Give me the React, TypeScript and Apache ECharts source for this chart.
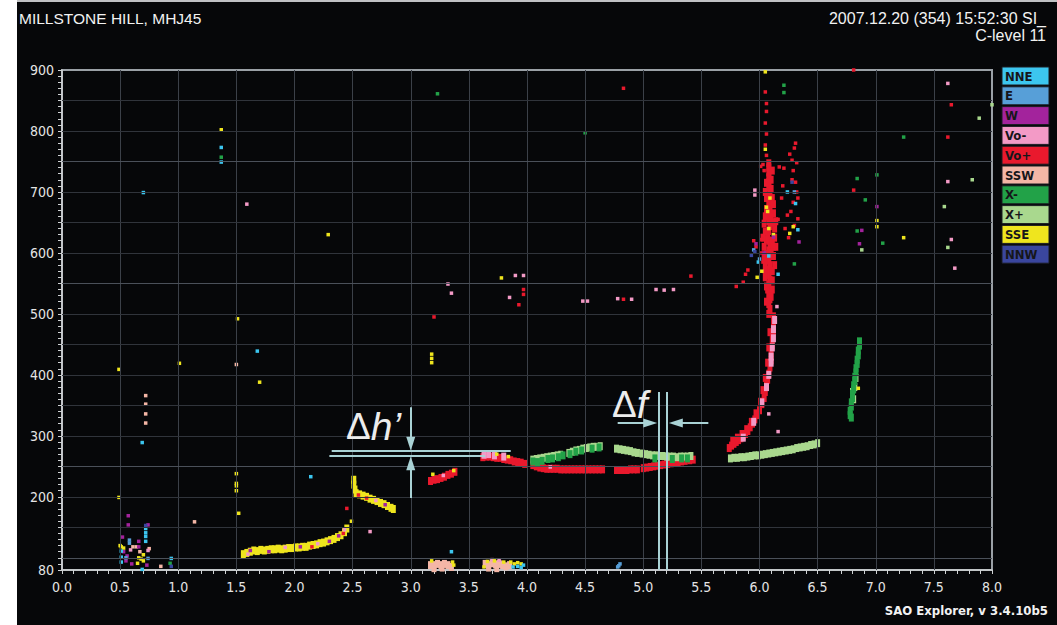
import React, { useEffect, useRef } from "react";
import * as echarts from "echarts";

// Ionogram: frequency (MHz) vs virtual height (km), echo points coloured by direction / polarization
const CATEGORIES = ["NNE", "E", "W", "Vo-", "Vo+", "SSW", "X-", "X+", "SSE", "NNW"];

const COLORS: Record<string, string> = {
  NNE: "#3cc6ef",
  E: "#579fd8",
  W: "#a3239c",
  "Vo-": "#f39ac6",
  "Vo+": "#e9192d",
  SSW: "#f4b6a6",
  "X-": "#22a248",
  "X+": "#a9d88e",
  SSE: "#efe51e",
  NNW: "#3a469e",
};

const X_TICK_LABELS_STEP = 0.5;
const X_GRID = [0.5, 1.0, 1.5, 2.0, 2.5, 3.0, 3.5, 4.0, 4.5, 5.0, 5.5, 6.0, 6.5, 7.0, 7.5];
const Y_GRID = [100, 150, 200, 250, 300, 350, 400, 450, 500, 550, 600, 650, 700, 750, 800, 850];
const Y_GRID_STRONG = [100, 250, 550, 750];
const Y_LABELS = [80, 200, 300, 400, 500, 600, 700, 800, 900];

// ---- ordinary-mode (Vo+) traces ----
const vopTrace = [
  [3.17, 226], [3.2, 228], [3.23, 229], [3.26, 231], [3.29, 233], [3.32, 236], [3.35, 238], [3.38, 241],
  [3.62, 265], [3.65, 266], [3.68, 266], [3.71, 265], [3.74, 264], [3.77, 264], [3.8, 262], [3.83, 261],
  [3.86, 260], [3.89, 258], [3.92, 257], [3.95, 256], [3.98, 254],
  [4.05, 252], [4.08, 250], [4.11, 248], [4.14, 247], [4.17, 246], [4.2, 246], [4.23, 246], [4.26, 246],
  [4.29, 245], [4.32, 245], [4.35, 245], [4.38, 245], [4.41, 245], [4.44, 245], [4.47, 245], [4.5, 245],
  [4.53, 245], [4.56, 245], [4.59, 245], [4.62, 245], [4.65, 245],
  [4.77, 244], [4.8, 244], [4.83, 244], [4.86, 244], [4.89, 245], [4.92, 245], [4.95, 245],
  [5.0, 247], [5.03, 248], [5.06, 249], [5.09, 250], [5.12, 251], [5.15, 252], [5.18, 253], [5.21, 254],
  [5.24, 255], [5.27, 256], [5.3, 257], [5.33, 258], [5.36, 259], [5.4, 260], [5.43, 261],
  // F2 rising branch
  [5.74, 280], [5.76, 284], [5.78, 287], [5.8, 290], [5.82, 293], [5.84, 296], [5.86, 299], [5.88, 303],
  [5.9, 308], [5.92, 314], [5.94, 320], [5.96, 327], [5.98, 334], [6.0, 342], [6.02, 352], [6.04, 362],
  [6.05, 372], [6.06, 382], [6.07, 392], [6.08, 402], [6.09, 412], [6.1, 424], [6.1, 436], [6.11, 448],
  [6.11, 460], [6.12, 472], [6.12, 484], [6.12, 496],
  [5.77, 292], [5.81, 297], [5.85, 303], [5.89, 311], [5.93, 323], [5.97, 337], [6.01, 356], [6.03, 375],
  [6.05, 395], [6.07, 420], [6.08, 445], [6.09, 470],
  // F2 spread column
  [6.08, 500], [6.09, 508], [6.08, 516], [6.09, 524], [6.08, 532], [6.07, 540], [6.08, 548], [6.09, 556],
  [6.08, 564], [6.07, 572], [6.09, 580], [6.08, 588], [6.07, 596], [6.08, 604], [6.09, 612], [6.08, 620],
  [6.07, 628], [6.08, 636], [6.09, 644], [6.08, 652], [6.07, 660], [6.08, 668], [6.09, 676], [6.08, 684],
  [6.08, 692], [6.09, 700], [6.08, 708], [6.08, 716], [6.08, 724], [6.08, 732], [6.08, 740], [6.08, 747],
  [6.05, 560], [6.05, 585], [6.04, 610], [6.05, 635], [6.05, 660], [6.06, 690], [6.11, 570], [6.12, 595],
  [6.11, 620], [6.13, 640], [6.12, 665], [6.11, 690], [6.14, 610], [6.13, 580], [6.1, 720], [6.11, 735],
  [6.06, 545], [6.05, 572], [6.06, 598], [6.06, 622], [6.04, 648], [6.06, 672], [6.05, 700], [6.06, 715],
  [6.11, 555], [6.12, 610], [6.11, 650], [6.12, 680], [6.1, 705], [6.11, 540], [6.1, 528], [6.06, 520],
  [6.13, 625], [6.14, 652], [6.03, 625], [6.04, 592], [6.1, 600], [6.1, 660],
];

const vopDots = [
  [6.02, 600], [6.03, 585], [6.02, 622], [6.06, 760], [6.05, 777], [6.06, 795], [6.05, 813], [6.06, 832],
  [6.06, 845], [6.05, 864], [6.03, 745], [6.01, 742], [6.04, 735],
  [6.31, 780], [6.26, 762], [6.28, 752], [6.32, 748], [6.17, 741], [6.21, 739], [6.28, 720], [6.31, 716],
  [6.32, 700], [6.29, 683], [6.27, 668], [6.24, 662], [6.33, 656], [6.3, 645], [6.25, 625], [6.22, 640],
  [6.19, 690], [6.2, 710], [6.16, 655], [6.3, 772], [6.29, 735], [6.33, 690],
  [5.95, 620], [5.97, 610], [5.9, 572], [5.88, 565], [5.86, 552], [5.8, 545],
  [2.55, 203], [2.62, 198], [2.45, 181], [2.15, 118], [2.42, 140],
  [4.83, 870], [3.97, 540], [3.97, 532], [3.93, 515], [3.2, 495], [4.83, 524], [5.41, 562],
  [7.65, 843], [7.62, 790], [6.81, 900], [6.81, 703],
];

// ---- extraordinary-mode traces ----
const xpTrace = [
  [4.05, 261], [4.08, 262], [4.11, 263], [4.14, 264], [4.17, 265], [4.2, 266], [4.23, 267], [4.26, 268], [4.29, 269],
  [4.36, 272], [4.39, 274], [4.42, 276], [4.45, 277], [4.48, 279], [4.51, 280], [4.54, 281], [4.57, 282],
  [4.6, 282], [4.63, 283],
  [4.77, 279], [4.8, 278], [4.83, 277], [4.86, 276], [4.89, 275], [4.92, 273], [4.95, 272],
  [4.99, 271], [5.02, 270], [5.05, 269], [5.08, 268], [5.11, 268], [5.14, 267], [5.17, 267], [5.2, 266],
  [5.23, 266], [5.26, 266], [5.29, 265], [5.32, 266], [5.35, 266], [5.38, 266], [5.41, 267],
  [5.75, 263], [5.78, 264], [5.81, 264], [5.84, 265], [5.87, 265], [5.9, 266], [5.93, 267], [5.96, 268],
  [5.99, 268], [6.02, 269], [6.05, 270], [6.08, 271], [6.11, 272], [6.14, 273], [6.17, 274], [6.2, 275],
  [6.23, 276], [6.26, 277], [6.29, 278], [6.32, 280], [6.35, 281], [6.38, 282], [6.41, 283], [6.44, 285],
  [6.47, 286], [6.5, 288],
  [6.83, 395], [6.82, 380], [6.8, 372], [6.81, 360], [6.86, 452],
];

const xpDots = [[7.89, 821], [7.83, 720], [7.59, 676], [7.62, 609], [6.88, 605], [8.0, 843]];

const xmTrace = [
  [4.05, 258], [4.09, 257], [4.13, 259], [4.18, 262], [4.22, 263], [4.27, 265], [4.31, 268], [4.37, 270],
  [4.42, 274], [4.47, 276], [4.56, 279], [4.62, 281], [5.1, 263], [5.25, 262], [5.33, 263], [5.38, 263],
  [6.86, 455], [6.86, 448], [6.85, 440], [6.85, 432], [6.84, 425], [6.84, 418], [6.83, 411], [6.83, 404],
  [6.82, 397], [6.82, 390], [6.81, 383], [6.81, 376], [6.8, 369], [6.8, 362], [6.79, 355], [6.79, 348],
  [6.78, 341], [6.78, 334], [6.79, 330],
];

const xmDots = [
  [1.37, 757], [3.23, 861], [4.5, 797], [6.21, 875], [6.21, 863], [6.84, 722], [6.91, 687], [7.01, 728],
  [6.84, 636], [7.06, 616], [7.24, 790], [0.93, 91], [6.3, 582],
];

// ---- Vo- echoes ----
const vomTrace = [
  [5.86, 297], [5.95, 323], [6.02, 355], [6.06, 380], [6.08, 400], [6.1, 420], [6.1, 430], [6.11, 445],
  [6.12, 460], [6.12, 475], [6.13, 490],
  [3.63, 269], [3.67, 270], [3.72, 268], [3.8, 266],
];

const vomDots = [
  [1.59, 680], [3.32, 549], [3.35, 534], [3.9, 563], [3.97, 563], [3.85, 527], [4.48, 521], [4.52, 521],
  [4.78, 525], [4.9, 524], [5.11, 540], [5.18, 539], [5.26, 540], [7.62, 878], [7.62, 717], [7.65, 622],
  [7.68, 575], [2.65, 143], [6.15, 512], [5.96, 703], [5.96, 695], [6.16, 307], [6.08, 336],
  [1.6, 106], [1.92, 117], [2.2, 123], [2.43, 146], [2.7, 194], [3.28, 235], [4.2, 249],
  [0.59, 113], [0.74, 112], [3.7, 97], [3.76, 96],
];

// ---- sporadic-E / lower-layer echoes (SSE) ----
const sseTrace = [
  [1.56, 106], [1.59, 108], [1.62, 110], [1.65, 112], [1.68, 111], [1.71, 113], [1.74, 112], [1.77, 113],
  [1.8, 114], [1.83, 114], [1.86, 115], [1.89, 114], [1.92, 115], [1.95, 116], [1.98, 116], [2.01, 117],
  [2.04, 117], [2.07, 118], [2.1, 118], [2.13, 120], [2.16, 121], [2.19, 122], [2.22, 124], [2.25, 125],
  [2.28, 127], [2.31, 129], [2.34, 131], [2.37, 134], [2.4, 137], [2.43, 142], [2.45, 148],
  [2.51, 228], [2.51, 220], [2.52, 212], [2.53, 206], [2.56, 204], [2.59, 202], [2.62, 200], [2.65, 197],
  [2.68, 195], [2.71, 193], [2.74, 190], [2.77, 188], [2.8, 185], [2.83, 182], [2.85, 180],
];

const sseDots = [
  [0.49, 409], [0.49, 199], [1.01, 419], [1.7, 388], [1.5, 238], [1.5, 222], [1.5, 218], [1.5, 210],
  [1.52, 173], [1.37, 802], [2.29, 630], [1.51, 492], [3.78, 559], [3.18, 420], [3.18, 427], [3.18, 434],
  [7.01, 643], [7.01, 653], [7.24, 625], [6.05, 897], [6.05, 770],
  [6.07, 668], [6.08, 640], [6.12, 630], [6.02, 570], [5.98, 560], [6.09, 690], [6.06, 675], [6.26, 632],
  [6.29, 643], [6.85, 378], [3.19, 237], [3.37, 243], [3.74, 270], [3.84, 266],
  [0.5, 120], [0.51, 118], [0.53, 116], [0.7, 105], [0.68, 98], [0.7, 95], [0.66, 100], [0.65, 91],
  [3.18, 95], [3.36, 93], [3.37, 88], [3.63, 85], [3.66, 94], [3.72, 95], [3.8, 93], [3.86, 93],
  [3.89, 90], [3.92, 92], [3.95, 90], [2.49, 160],
];

// ---- remaining directional echoes ----
const sswTrace = [
  [3.17, 88], [3.2, 88], [3.23, 90], [3.26, 88], [3.29, 90], [3.32, 88], [3.2, 83], [3.27, 84], [3.35, 85],
  [3.64, 90], [3.67, 88], [3.7, 91], [3.73, 89], [3.76, 90], [3.79, 88], [3.82, 86], [3.85, 88], [3.67, 84], [3.74, 83],
];

const sswDots = [
  [0.72, 366], [0.72, 352], [0.72, 336], [0.72, 321], [1.5, 417], [1.14, 159], [0.85, 86], [0.61, 118],
  [0.67, 110], [0.64, 118], [0.75, 115],
];

const wDots = [
  [7.01, 676], [6.88, 637], [6.86, 615], [5.97, 615], [6.04, 600], [6.12, 626], [6.34, 618],
  [1.62, 112], [1.78, 110], [2.05, 118], [2.3, 127], [2.38, 136], [2.78, 187],
  [0.57, 169], [0.57, 154], [0.52, 134], [0.74, 154], [0.53, 110], [0.56, 103], [0.55, 95], [0.66, 127],
  [0.66, 118], [0.6, 90], [0.73, 88],
];

const eDots = [[0.58, 129], [0.58, 124], [0.55, 100], [4.78, 85], [4.8, 90], [4.79, 87], [5.95, 605], [6.0, 590], [6.3, 700], [0.74, 99]];

const nneDots = [
  [0.69, 289], [0.7, 699], [2.14, 233], [1.68, 439], [1.37, 773], [1.37, 749], [3.35, 110],
  [0.72, 148], [0.72, 141], [0.72, 135], [0.72, 127], [0.51, 111], [0.51, 101], [0.51, 93], [0.69, 81],
  [0.94, 99], [3.88, 85], [3.92, 86], [3.95, 84], [3.97, 88], [5.99, 585], [6.08, 595], [6.16, 565],
  [6.31, 681], [6.33, 638], [6.24, 700],
];

const nnwDots = [[0.72, 153], [0.94, 86], [5.96, 602], [5.93, 596], [6.28, 716]];

// frequency markers drawn under the bottom axis
const FREQ_MARKS = [[2.87, 3.17], [3.42, 3.63], [4.67, 4.78], [5.47, 5.78], [6.56, 6.81]];

const AXIS_FONT = "'DejaVu Sans Condensed','Liberation Sans',Arial,sans-serif";
const TITLE_FONT = "'Liberation Sans',Arial,sans-serif";
const ANNOT = "#a9d2d5";

function App() {
  const ref = useRef<HTMLDivElement>(null);

  useEffect(() => {
    if (!ref.current) return;
    const chart = echarts.init(ref.current, undefined, { renderer: "svg" });

    const trace = (name: string, data: number[][]) => ({
      type: "scatter",
      name,
      data,
      symbol: "rect",
      symbolSize: [5, 8],
      itemStyle: { color: COLORS[name], opacity: 1 },
      z: 3,
      silent: true,
    });
    const dots = (name: string, data: number[][]) => ({
      type: "scatter",
      name,
      data,
      symbol: "rect",
      symbolSize: 3.5,
      itemStyle: { color: COLORS[name], opacity: 1 },
      z: 4,
      silent: true,
    });

    const gridLines = [
      ...X_GRID.map((v) => ({ xAxis: v, lineStyle: { color: "#3b4048", width: 1, type: "solid" } })),
      ...Y_GRID.map((v) => ({
        yAxis: v,
        lineStyle: { color: Y_GRID_STRONG.includes(v) ? "#4a5059" : "#30343b", width: 1, type: "solid" },
      })),
    ];

    const arrowEnd = { symbol: "triangle", symbolSize: [9, 14] };
    const annotationLines = [
      [{ coord: [2.32, 275] }, { coord: [3.86, 275] }],
      [{ coord: [2.3, 267] }, { coord: [3.64, 267] }],
      [{ coord: [3.0, 347] }, { coord: [3.0, 287], ...arrowEnd }],
      [{ coord: [3.0, 198] }, { coord: [3.0, 255], ...arrowEnd }],
      [{ coord: [4.78, 321] }, { coord: [5.06, 321], ...arrowEnd }],
      [{ coord: [5.56, 321] }, { coord: [5.28, 321], ...arrowEnd }],
      [{ coord: [5.135, 372] }, { coord: [5.135, 80] }],
      [{ coord: [5.205, 372] }, { coord: [5.205, 80] }],
    ];

    const legendItems = CATEGORIES.flatMap((name, i) => [
      {
        type: "rect",
        shape: { x: 1002, y: 67 + i * 19.8, width: 47, height: 18 },
        style: { fill: COLORS[name], stroke: "#1a1c22", lineWidth: 1 },
        z: 10,
      },
      {
        type: "text",
        x: 1005,
        y: 76 + i * 19.8,
        style: { text: name, fill: "#16161a", font: `bold 13px ${AXIS_FONT}`, textVerticalAlign: "middle" },
        z: 11,
      },
    ]);

    chart.setOption({
      animation: false,
      backgroundColor: "#060709",
      grid: { left: 62, right: 65, top: 70, bottom: 55, show: true, borderColor: "#9aa0a6", borderWidth: 2, backgroundColor: "transparent" },
      xAxis: {
        type: "value",
        min: 0,
        max: 8,
        interval: 0.1,
        axisLine: { show: true, onZero: false, lineStyle: { color: "#cfd2d4", width: 1.5 } },
        axisTick: { show: true, length: 4, lineStyle: { color: "#cfd2d4" } },
        splitLine: { show: false },
        axisLabel: {
          color: "#e4e4e4",
          fontSize: 14,
          fontFamily: AXIS_FONT,
          margin: 10,
          formatter: (v: number) => (Math.round(v * 10) % Math.round(X_TICK_LABELS_STEP * 10) === 0 ? v.toFixed(1) : ""),
        },
      },
      yAxis: {
        type: "value",
        min: 80,
        max: 900,
        interval: 10,
        axisLine: { show: true, onZero: false, lineStyle: { color: "#cfd2d4", width: 1.5 } },
        axisTick: { show: true, length: 4, lineStyle: { color: "#cfd2d4" } },
        splitLine: { show: false },
        axisLabel: {
          color: "#e4e4e4",
          fontSize: 14,
          fontFamily: AXIS_FONT,
          margin: 8,
          formatter: (v: number) => (Y_LABELS.includes(Math.round(v)) ? String(Math.round(v)) : ""),
        },
      },
      graphic: [
        { type: "rect", shape: { x: 0, y: 0, width: 17, height: 625 }, style: { fill: "#ffffff" }, z: 1 },
        { type: "rect", shape: { x: 17, y: 0, width: 1040, height: 2 }, style: { fill: "#bfc1c3" }, z: 1 },
        {
          type: "text",
          x: 19,
          y: 18,
          style: { text: "MILLSTONE HILL, MHJ45", fill: "#f2f2f2", font: `15.5px ${TITLE_FONT}`, textVerticalAlign: "middle" },
        },
        {
          type: "text",
          x: 1046,
          y: 18,
          style: { text: "2007.12.20 (354) 15:52:30 SI_", fill: "#f2f2f2", font: `16px ${TITLE_FONT}`, textAlign: "right", textVerticalAlign: "middle" },
        },
        {
          type: "text",
          x: 1046,
          y: 35,
          style: { text: "C-level 11", fill: "#f2f2f2", font: `16px ${TITLE_FONT}`, textAlign: "right", textVerticalAlign: "middle" },
        },
        {
          type: "text",
          x: 1048,
          y: 610,
          style: { text: "SAO Explorer, v 3.4.10b5", fill: "#f2f2f2", font: `bold 13px ${AXIS_FONT}`, textAlign: "right", textVerticalAlign: "middle" },
        },
        {
          type: "text",
          x: 346,
          y: 426,
          z: 20,
          style: {
            text: "{d|Δ}{h|h’}",
            rich: {
              d: { fill: "#ececec", font: "37px 'Liberation Sans',Arial,sans-serif" },
              h: { fill: "#ececec", font: "italic 39px 'Liberation Sans',Arial,sans-serif" },
            },
            textVerticalAlign: "middle",
          },
        },
        {
          type: "text",
          x: 612,
          y: 404,
          z: 20,
          style: {
            text: "{d|Δ}{f|f}",
            rich: {
              d: { fill: "#ececec", font: "37px 'Liberation Sans',Arial,sans-serif" },
              f: { fill: "#ececec", font: "italic 39px 'Liberation Sans',Arial,sans-serif" },
            },
            textVerticalAlign: "middle",
          },
        },
        ...legendItems,
      ],
      series: [
        {
          type: "line",
          data: [],
          z: 1,
          silent: true,
          markLine: {
            silent: true,
            symbol: ["none", "none"],
            label: { show: false },
            data: gridLines,
          },
        },
        trace("Vo+", vopTrace),
        trace("SSE", sseTrace),
        trace("SSW", sswTrace),
        trace("X+", xpTrace),
        trace("X-", xmTrace),
        trace("Vo-", vomTrace),
        dots("Vo+", vopDots),
        dots("X+", xpDots),
        dots("X-", xmDots),
        dots("SSW", sswDots),
        dots("Vo-", vomDots),
        dots("SSE", sseDots),
        dots("W", wDots),
        dots("E", eDots),
        dots("NNE", nneDots),
        dots("NNW", nnwDots),
        {
          type: "line",
          data: [],
          z: 8,
          silent: true,
          markLine: {
            silent: true,
            symbol: ["none", "none"],
            label: { show: false },
            lineStyle: { color: ANNOT, width: 2, type: "solid" },
            data: [
              ...annotationLines,
              ...FREQ_MARKS.map(([a, b]) => [
                { coord: [a, 77], lineStyle: { color: "#d4d6d8", width: 2 } },
                { coord: [b, 77] },
              ]),
            ],
          },
        },
      ],
    });

    return () => chart.dispose();
  }, []);

  return (
    <div
      ref={ref}
      style={{ position: "fixed", left: 0, top: 0, width: 1057, height: 625 }}
    />
  );
}

export default App;
